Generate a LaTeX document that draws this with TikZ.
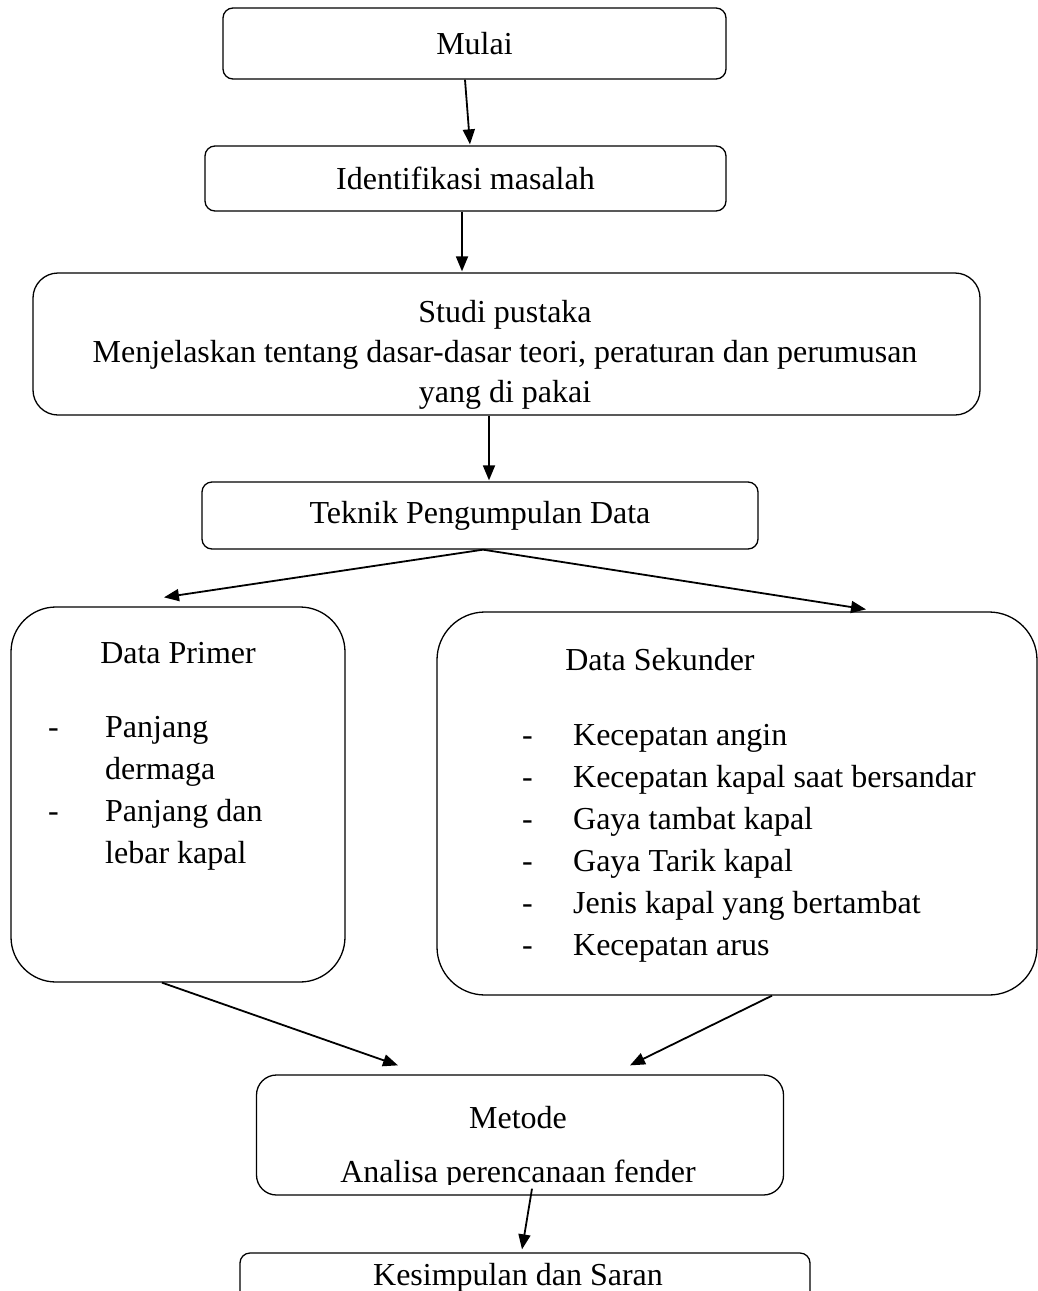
\documentclass[tikz,border=0pt]{standalone}
\usepackage{fontspec}
\setmainfont{Liberation Serif}
\usetikzlibrary{arrows.meta,calc}
\begin{document}
\begin{tikzpicture}[x=1pt,y=-1pt,
  box/.style={draw,line width=1.3pt,rounded corners=10pt,inner sep=0pt,font=\fontsize{32}{42}\selectfont},
  txt/.style={inner sep=0pt,font=\fontsize{32}{42}\selectfont},
  arr/.style={line width=1.8pt,-{Triangle[length=15pt,width=12pt]}}]
\useasboundingbox (0,0) rectangle (1038,1291);
\clip (0,0) rectangle (1038,1291);

% boxes
\node[box,minimum width=503pt,minimum height=71pt] (mulai) at (474.5,43.5) {Mulai};
\node[box,minimum width=521pt,minimum height=65pt] (ident) at (465.5,178.5) {Identifikasi masalah};
\node[box,rounded corners=25pt,minimum width=947pt,minimum height=142pt] (studi) at (506.5,344) {};
\node[txt,align=center,font=\fontsize{32}{40}\selectfont] (studitxt) at (505,355)
  {Studi pustaka\\Menjelaskan tentang dasar-dasar teori, peraturan dan perumusan\\yang di pakai};
\node[box,minimum width=556pt,minimum height=67pt] (teknik) at (480,515.5) {Teknik Pengumpulan Data};

\node[box,rounded corners=45pt,minimum width=334pt,minimum height=375pt] (primer) at (178,794.5) {};
\node[txt,anchor=base] (primertitle) at (178,663) {Data Primer};
\node[txt,anchor=base west] (primerlist) at (48,737)
  {\begin{tabular}[t]{@{}p{57pt}@{}l@{}}-&Panjang\\&dermaga\\-&Panjang dan\\&lebar kapal\end{tabular}};

\node[box,rounded corners=48pt,minimum width=600pt,minimum height=383pt] (sekunder) at (737,803.5) {};
\node[txt,anchor=base] (sekundertitle) at (660,670) {Data Sekunder};
\node[txt,anchor=base west] (sekunderlist) at (522,745)
  {\begin{tabular}[t]{@{}p{51pt}@{}l@{}}-&Kecepatan angin\\-&Kecepatan kapal saat bersandar\\-&Gaya tambat kapal\\-&Gaya Tarik kapal\\-&Jenis kapal yang bertambat\\-&Kecepatan arus\end{tabular}};

\node[box,rounded corners=20pt,minimum width=527pt,minimum height=120pt] (metode) at (520,1135) {};
\node[txt,anchor=base] (metodetitle) at (518,1128) {Metode};
\begin{scope}
\clip (255,1075) rectangle (785,1184);
\node[txt,anchor=base] (metodetxt) at (518,1182) {Analisa perencanaan fender};
\end{scope}

\node[box,minimum width=570pt,minimum height=57pt] (kesimpulan) at (525,1281.5) {};
\node[txt,anchor=base] (kesimpulantxt) at (518,1285) {Kesimpulan dan Saran};

% connectors
\draw[arr] ([xshift=-9.5pt]mulai.south) -- ([xshift=4.5pt,yshift=1pt]ident.north);
\draw[arr] ([xshift=-3.5pt]ident.south) -- ([xshift=-44.5pt,yshift=1pt]studi.north);
\draw[arr] ([xshift=-17.5pt]studi.south) -- ([xshift=9pt,yshift=1pt]teknik.north);
\draw[arr] ([xshift=3pt]teknik.south) -- ([xshift=-14pt,yshift=9pt]primer.north);
\draw[arr] ([xshift=3pt]teknik.south) -- ([xshift=129pt,yshift=2pt]sekunder.north);
\draw[arr] ([xshift=-16pt]primer.south) -- ([xshift=-122pt,yshift=9pt]metode.north);
\draw[arr] ([xshift=35pt]sekunder.south) -- ([xshift=110pt,yshift=9pt]metode.north);
\draw[arr] ([xshift=12pt,yshift=7pt]metode.south) -- ([xshift=-3pt,yshift=3pt]kesimpulan.north);
\end{tikzpicture}
\end{document}
